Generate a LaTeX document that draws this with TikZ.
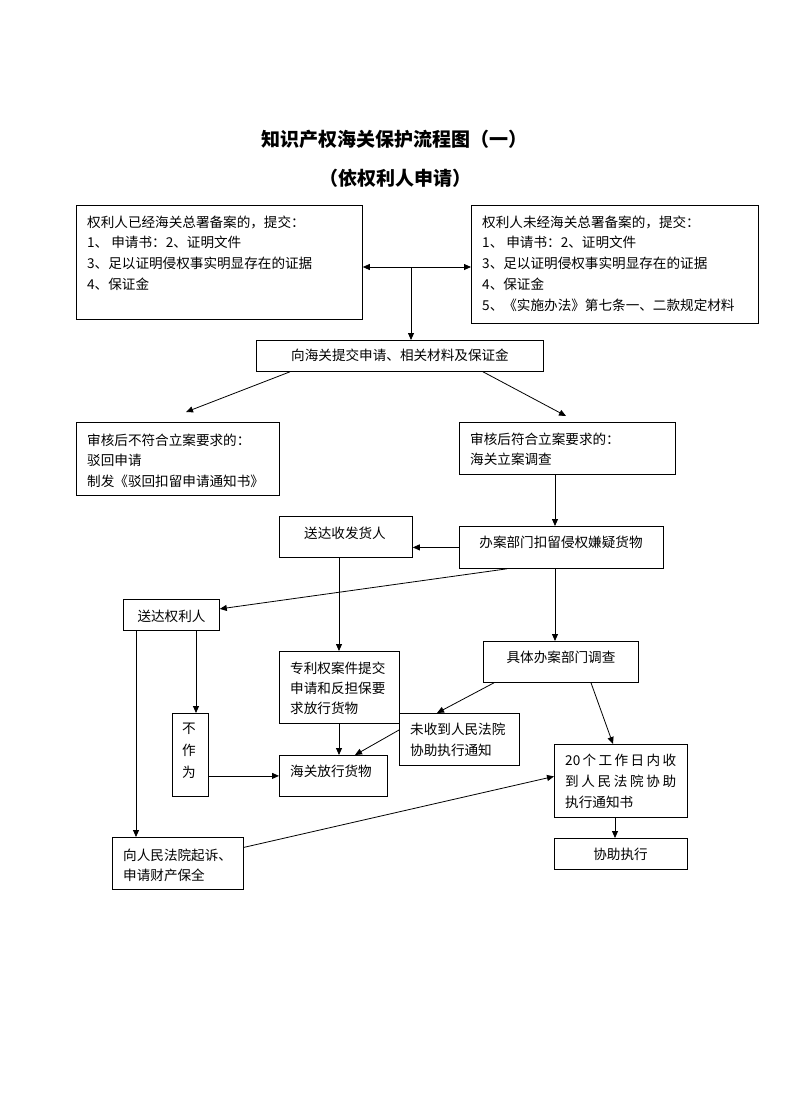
\documentclass[tikz,border=0pt]{standalone}
\usepackage{fontspec}
\newfontfamily\cjk{Noto Sans CJK SC}
\usetikzlibrary{arrows.meta}
\begin{document}
\begin{tikzpicture}[x=1pt,y=-1pt,
  box/.style={draw, line width=0.8pt, inner sep=0, anchor=north west},
  txt/.style={font=\cjk\fontsize{13.6pt}{20.8pt}\selectfont, inner sep=0, align=left, anchor=base west},
  ctxt/.style={font=\cjk\fontsize{13.6pt}{20.8pt}\selectfont, inner sep=0, anchor=base},
  ttl/.style={font=\cjk\bfseries\fontsize{19pt}{22pt}\selectfont, inner sep=0, anchor=base},
  arr/.style={-{Triangle[length=7pt,width=6pt]}, line width=0.8pt},
  darr/.style={{Triangle[length=7pt,width=6pt]}-{Triangle[length=7pt,width=6pt]}, line width=0.8pt}]
\fill[white] (0,0) rectangle (792,1120);
\useasboundingbox (0,0) rectangle (792,1120);

% titles
\node[ttl] (t1) at (394,146) {知识产权海关保护流程图（一）};
\node[ttl] (t2) at (395,185) {（依权利人申请）};

% boxes
\node[box, minimum width=286pt, minimum height=114pt] (A) at (76,205) {};
\node[box, minimum width=287pt, minimum height=118pt] (B) at (471,205) {};
\node[box, minimum width=287pt, minimum height=31pt] (M) at (256,340) {};
\node[box, minimum width=203pt, minimum height=73pt] (C) at (76,422) {};
\node[box, minimum width=216pt, minimum height=52pt] (D) at (459,422) {};
\node[box, minimum width=133pt, minimum height=41pt] (SF) at (279,516) {};
\node[box, minimum width=204pt, minimum height=42pt] (E) at (459,526) {};
\node[box, minimum width=96pt, minimum height=31pt] (SQ) at (123,599) {};
\node[box, minimum width=120pt, minimum height=72pt] (ZL) at (279,651) {};
\node[box, minimum width=155pt, minimum height=41pt] (JT) at (483,641) {};
\node[box, minimum width=36pt, minimum height=83pt] (BZ) at (172,713) {};
\node[box, minimum width=120pt, minimum height=52pt] (WS) at (399,713) {};
\node[box, minimum width=108pt, minimum height=41pt] (FX) at (279,755) {};
\node[box, minimum width=133pt, minimum height=73pt] (ES) at (554,744) {};
\node[box, minimum width=133pt, minimum height=31pt] (XY) at (554,838) {};
\node[box, minimum width=131pt, minimum height=52pt] (QS) at (112,837) {};

% texts (multi-line nodes: base = baseline of last line)
\node[txt] (At) at (87,289.4) {权利人已经海关总署备案的，提交：\\1、 申请书：2、证明文件\\3、足以证明侵权事实明显存在的证据\\4、保证金};
\node[txt] (Bt) at (482,310.2) {权利人未经海关总署备案的，提交：\\1、 申请书：2、证明文件\\3、足以证明侵权事实明显存在的证据\\4、保证金\\5、《实施办法》第七条一、二款规定材料};
\node[ctxt] (Mt) at (400,360) {向海关提交申请、相关材料及保证金};
\node[txt] (Ct) at (87,486.6) {审核后不符合立案要求的：\\驳回申请\\制发《驳回扣留申请通知书》};
\node[txt] (Dt) at (470,464.8) {审核后符合立案要求的：\\海关立案调查};
\node[ctxt] (SFt) at (345,538) {送达收发货人};
\node[ctxt] (Et) at (561,547) {办案部门扣留侵权嫌疑货物};
\node[ctxt] (SQt) at (171.5,621) {送达权利人};
\node[txt, font=\cjk\fontsize{13.6pt}{20pt}\selectfont] (ZLt) at (290,713) {专利权案件提交\\申请和反担保要\\求放行货物};
\node[ctxt] (JTt) at (561,662) {具体办案部门调查};
\node[ctxt, align=center, font=\cjk\fontsize{13.6pt}{22pt}\selectfont] (BZt) at (189,777) {不\\作\\为};
\node[txt, font=\cjk\fontsize{13.6pt}{21pt}\selectfont] (WSt) at (410,755) {未收到人民法院\\协助执行通知};
\node[txt] (FXt) at (290,776) {海关放行货物};
\node[txt, font=\cjk\fontsize{13.6pt}{21pt}\selectfont] (ESt) at (565,807) {\makebox[111pt][s]{20\hfill 个\hfill 工\hfill 作\hfill 日\hfill 内\hfill 收}\\\makebox[111pt][s]{到\hfill 人\hfill 民\hfill 法\hfill 院\hfill 协\hfill 助}\\执行通知书};
\node[ctxt] (XYt) at (620.5,859) {协助执行};
\node[txt, font=\cjk\fontsize{13.6pt}{20pt}\selectfont] (QSt) at (123,880) {向人民法院起诉、\\申请财产保全};

% connectors
\coordinate (j) at (411,267);
\draw[darr] (A.east |- j) -- (B.west |- j);
\draw[arr] (j) -- (j |- M.north);

\coordinate (m1) at ([xshift=34pt]M.south west);
\coordinate (c1) at ([xshift=110pt,yshift=10pt]C.north west);
\draw[arr] (m1) -- (c1);
\coordinate (m2) at ([xshift=227pt]M.south west);
\coordinate (d1) at ([xshift=107pt,yshift=6pt]D.north west);
\draw[arr] (m2) -- (d1);

\coordinate (d2) at ([xshift=96pt]D.south west);
\draw[arr] (d2) -- (d2 |- E.north);

\draw[arr] (E.west) -- (E.west -| SF.east);

\coordinate (e1) at ([xshift=48pt]E.south west);
\draw[arr] (e1) -- ([yshift=6pt]SQ.east);

\coordinate (sf1) at ([xshift=60pt]SF.south west);
\draw[arr] (sf1) -- (sf1 |- ZL.north);

\coordinate (e2) at ([xshift=96pt]E.south west);
\draw[arr] (e2) -- (e2 |- JT.north);

\coordinate (sq1) at ([xshift=13pt]SQ.south west);
\draw[arr] (sq1) -- (sq1 |- QS.north);
\coordinate (sq2) at ([xshift=73pt]SQ.south west);
\draw[arr] (sq2) -- (sq2 |- BZ.north);

\draw[arr] ([xshift=11pt]JT.south west) -- ([xshift=38pt]WS.north west);
\draw[arr] ([xshift=108pt]JT.south west) -- ([xshift=59pt]ES.north west);

\draw[arr] ([yshift=-17pt]WS.north west) -- ([xshift=76pt]FX.north west);

\coordinate (zl1) at ([xshift=60pt]ZL.south west);
\draw[arr] (zl1) -- (zl1 |- FX.north);

\draw[arr] (FX.west -| BZ.east) -- (FX.west);

\draw[arr] ([yshift=16pt]QS.east) -- ([yshift=4.5pt]ES.west);

\coordinate (es1) at ([xshift=61pt]ES.south west);
\draw[arr] (es1) -- (es1 |- XY.north);
\end{tikzpicture}
\end{document}
